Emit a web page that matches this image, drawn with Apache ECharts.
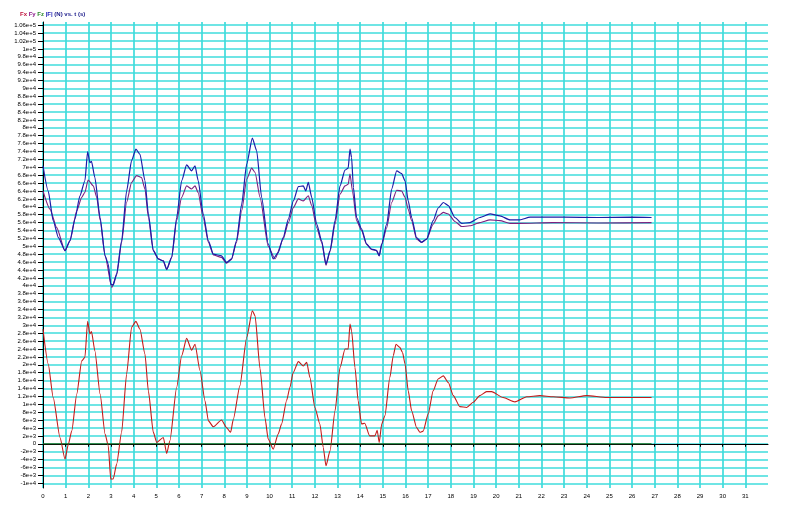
<!DOCTYPE html>
<html>
<head>
<meta charset="utf-8">
<script src="https://cdn.jsdelivr.net/npm/echarts@6/dist/echarts.min.js"></script>
<style>html,body{margin:0;padding:0;background:#fff}#c{width:786px;height:518px}</style>
</head>
<body>
<div id="c"></div>
<script>
// ---- data ----
const tFx = [0,0.23,0.45,0.75,0.97,1.12,1.27,1.49,1.71,1.85,1.97,2.07,2.14,2.29,2.52,2.74,2.88,2.99,3.1,3.25,3.47,3.69,3.91,4.1,4.28,4.5,4.65,4.87,5.02,5.31,5.46,5.6,5.9,6.12,6.34,6.56,6.71,6.93,7.15,7.3,7.52,7.88,8.1,8.28,8.4,8.69,8.99,9.24,9.36,9.58,9.8,9.94,10.16,10.38,10.53,10.75,10.9,11.04,11.27,11.49,11.64,11.78,12.0,12.22,12.37,12.49,12.67,12.89,13.11,13.33,13.47,13.55,13.62,13.77,13.91,14.06,14.2,14.42,14.65,14.75,14.84,14.95,15.09,15.31,15.46,15.58,15.75,15.87,15.98,16.12,16.27,16.49,16.64,16.78,17.0,17.22,17.44,17.67,17.89,18.11,18.4,18.7,18.99,19.28,19.58,19.8,20.31,20.83,21.35,21.93,22.52,23.26,23.99,24.88,25.76,26.86];
const fx = [29000,20200,11700,1600,-3870,-100,3300,12600,21000,21900,31000,27800,28400,23500,12600,2450,-500,-8940,-8900,-5150,2900,17600,29500,31000,29000,22700,13400,2900,330,1600,-2450,760,14300,22300,26700,23700,25200,18500,10900,5800,4300,6000,4100,2900,6200,14700,26900,33700,32400,19000,6500,1200,-1350,2450,5000,10900,14300,18000,20800,19700,20600,16800,9200,5000,-930,-5570,-1770,8350,19300,24000,24000,30300,28600,19300,10900,5000,5200,2000,2000,3400,330,5000,7100,16800,22300,25200,24400,23100,20200,13400,8350,4100,2900,3200,7500,13400,16400,17200,15500,12200,9400,9200,10500,12200,13200,13200,11700,10600,11900,12200,11900,11600,12200,11700,11700,11700];

const tFy = [0,0.31,0.6,0.97,1.19,1.49,1.71,1.85,1.99,2.22,2.37,2.52,2.74,3.04,3.25,3.47,3.69,3.91,4.13,4.35,4.5,4.65,4.87,5.09,5.31,5.46,5.68,5.9,6.12,6.34,6.56,6.71,6.85,7.07,7.3,7.52,7.88,8.1,8.32,8.54,8.77,8.99,9.21,9.36,9.58,9.94,10.24,10.6,10.83,11.05,11.27,11.49,11.71,11.86,12.08,12.3,12.49,12.67,12.89,13.11,13.33,13.47,13.55,13.66,13.84,14.06,14.28,14.5,14.72,14.84,14.95,15.17,15.39,15.61,15.83,15.98,16.12,16.27,16.49,16.71,16.93,17.22,17.44,17.67,17.89,18.18,18.48,18.84,19.28,19.73,20.17,20.61,21.05,22.5,24.5,26.86];
const fy = [64000,59400,54800,48900,51400,59000,62400,63700,66800,65300,62400,56600,47600,39600,42700,51000,61100,66200,67900,67400,64500,57300,48900,46800,46300,44100,47200,56500,62400,65300,64500,65300,63600,57300,51000,47800,47200,45700,46700,51000,59000,67000,69800,68700,62400,50000,46800,51800,56000,59800,62000,61500,62800,60300,54700,51000,45200,48700,55600,63200,65300,65700,68300,64000,56500,54000,50500,49200,48900,47600,50400,54700,61100,64200,64000,62400,59400,56500,51800,51000,51800,55600,57700,58600,58200,56300,55000,55200,56000,56700,56500,55800,55800,56000,55900,56000];

const tFz = [0,26.86];
const fz = [0,0];

const tF = [0,0.23,0.45,0.68,0.97,1.19,1.41,1.63,1.85,1.97,2.07,2.14,2.29,2.52,2.74,2.88,2.99,3.1,3.25,3.47,3.69,3.91,4.1,4.28,4.5,4.65,4.87,5.09,5.31,5.46,5.68,5.9,6.12,6.34,6.56,6.71,6.85,7.07,7.3,7.52,7.88,8.1,8.32,8.54,8.77,8.99,9.24,9.43,9.65,9.94,10.16,10.38,10.6,10.83,11.05,11.27,11.49,11.6,11.71,11.86,12.08,12.3,12.49,12.67,12.89,13.11,13.33,13.47,13.55,13.62,13.7,13.84,14.06,14.28,14.5,14.72,14.84,14.95,15.17,15.39,15.61,15.83,15.98,16.12,16.27,16.49,16.71,16.93,17.22,17.44,17.67,17.89,18.18,18.48,18.84,19.28,19.73,20.17,20.61,21.05,21.5,22.97,24.5,26.0,26.86];
const fmag = [70400,64000,56500,52200,48900,51400,56900,62800,66600,74000,71200,71500,67400,57300,47600,45500,40400,40200,43000,51400,64000,71700,74600,73300,66600,58200,48900,46800,46300,44200,47200,57300,66600,70600,69100,70400,66600,58200,51400,48000,47600,45900,46800,51400,60700,70800,77400,74200,62400,50600,46800,48400,52200,56900,61500,65100,65300,64000,66200,62400,55600,51400,45500,48900,56500,65300,69300,69800,74600,72500,64900,57300,54400,50600,49300,49000,47600,50600,55600,64500,69100,68400,66600,61500,57300,52200,51000,51800,56500,59700,61100,60300,57300,55800,56000,57300,58200,57700,56700,56700,57400,57400,57300,57400,57300];

const yTicks = [];
for (let v = -10000; v <= 106000; v += 2000) yTicks.push(v);
const xTicks = [];
for (let v = 0; v <= 31; v += 1) xTicks.push(v);

function pairs(t, v) { return t.map((x, i) => [x, v[i]]); }
function fmt(v) {
  if (Math.abs(v) < 1e-9) return '0';
  const s = v < 0 ? '-' : '';
  const a = Math.abs(v);
  let e = Math.floor(Math.log10(a) + 1e-9);
  let m = Math.round(a / Math.pow(10, e) * 100) / 100;
  if (m >= 10) { m /= 10; e++; }
  return s + (+m.toFixed(2)) + 'e+' + e;
}

const chart = echarts.init(document.getElementById('c'), null, {renderer: 'canvas'});
const grid = '#3fdcdc';
const lab = {fontFamily: 'Liberation Sans', fontSize: 6, color: '#000'};
const lineSeries = (name, data, color, w) => ({
  name, type: 'line', data, showSymbol: false, smooth: 0.2, smoothMonotone: 'x',
  lineStyle: {color, width: w}, itemStyle: {color}
});
chart.setOption({
  animation: false,
  backgroundColor: '#fff',
  title: {
    left: 15, top: 6,
    text: '{a|Fx} {b|Fy} {c|Fz} {d||F|} {e|(N) vs. t (s)}',
    textStyle: {
      fontFamily: 'Liberation Sans', fontSize: 6,
      rich: {
        a: {color: '#c0143c', fontSize: 6, fontFamily: 'Liberation Sans'},
        b: {color: '#8a1a8a', fontSize: 6, fontFamily: 'Liberation Sans'},
        c: {color: '#2a8a2a', fontSize: 6, fontFamily: 'Liberation Sans'},
        d: {color: '#1a1ab4', fontSize: 6, fontFamily: 'Liberation Sans'},
        e: {color: '#1a1a8a', fontSize: 6, fontFamily: 'Liberation Sans'}
      }
    }
  },
  grid: {left: 43, right: 18, top: 22, bottom: 30, outerBoundsMode: 'none'},
  xAxis: {
    type: 'value', min: 0, max: 32, interval: 1,
    axisLine: {show: true, lineStyle: {color: '#000', width: 1}},
    axisTick: {show: true, length: 3, lineStyle: {color: '#000'}, customValues: xTicks},
    axisLabel: Object.assign({margin: 5, customValues: xTicks, formatter: v => (v > 31 ? '' : String(v))}, lab),
    splitLine: {show: true, lineStyle: {color: grid, width: 1.7}}
  },
  yAxis: {
    type: 'value', min: -11200, max: 106800,
    axisLine: {show: true, onZero: false, lineStyle: {color: '#000', width: 1}},
    axisTick: {show: true, length: 5, lineStyle: {color: '#000'}, customValues: yTicks},
    axisLabel: Object.assign({margin: 7, customValues: yTicks, formatter: fmt}, lab),
    splitLine: {show: true, lineStyle: {color: grid, width: 1.7}}
  },
  series: [
    lineSeries('Fx', pairs(tFx, fx), '#c41a1a', 1.1),
    lineSeries('Fy', pairs(tFy, fy), '#7d1f7d', 1.1),
    lineSeries('Fz', pairs(tFz, fz), '#1f6f1f', 1.1),
    lineSeries('|F|', pairs(tF, fmag), '#1c1ca8', 1.2)
  ]
});
</script>
</body>
</html>
